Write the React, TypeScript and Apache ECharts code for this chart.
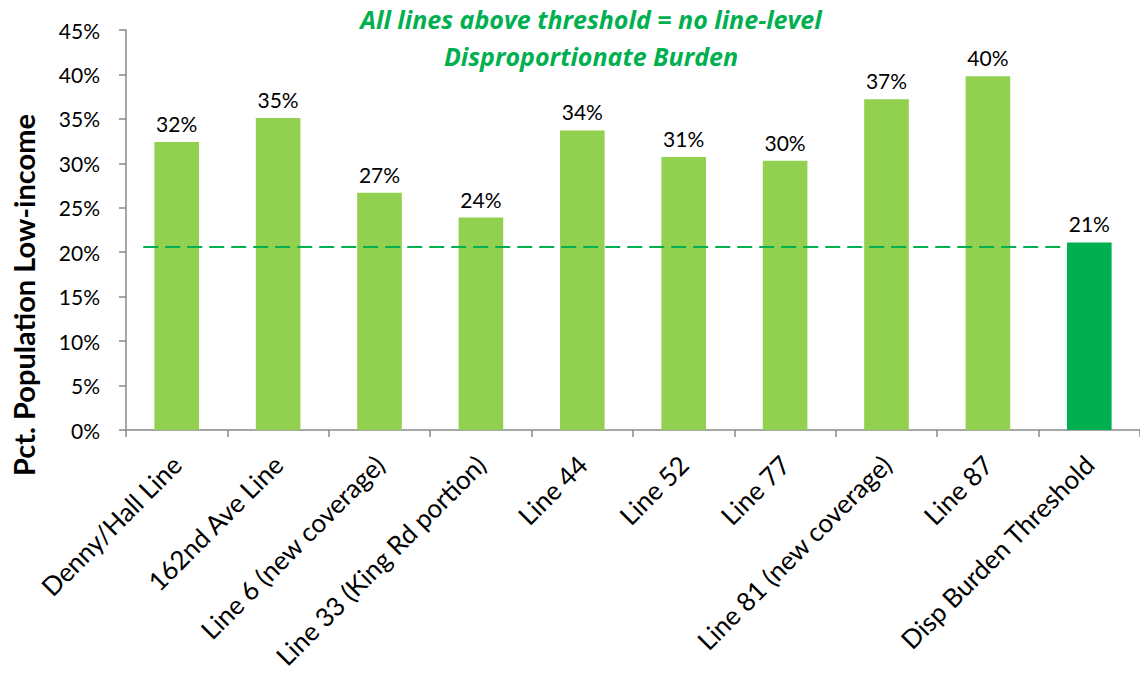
import React, { useEffect, useRef } from "react";
import * as echarts from "echarts";

const categories = [
  "Denny/Hall Line",
  "162nd Ave Line",
  "Line 6 (new coverage)",
  "Line 33 (King Rd portion)",
  "Line 44",
  "Line 52",
  "Line 77",
  "Line 81 (new coverage)",
  "Line 87",
  "Disp Burden Threshold",
];
const lowIncomePct = [32.4, 35.1, 26.7, 23.9, 33.7, 30.7, 30.3, 37.2, 39.8, 21.1];
const yTicks = { min: 0, max: 45, interval: 5 };
// threshold dashed line, in category units along the x axis
const thresholdLine: [number, number][] = [
  [0.17, 20.6],
  [9.28, 20.6],
];
const noteLine1 = "All lines above threshold = no line-level";
const noteLine2 = "Disproportionate Burden";
const yTitle = "Pct. Population Low-income";

const FONT = "Lato, 'Noto Sans', sans-serif";
const NOTE_FONT = "'Open Sans', Lato, sans-serif";
const LIGHT = "#92D050";
const DARK = "#00B050";

export default function App() {
  const ref = useRef<HTMLDivElement>(null);
  useEffect(() => {
    if (!ref.current) return;
    const chart = echarts.init(ref.current, null, { renderer: "svg" });
    chart.setOption({
      animation: false,
      textStyle: { fontFamily: FONT },
      grid: { left: 126, right: -7, top: 30, bottom: 247, containLabel: false },
      xAxis: [
        {
          type: "category",
          data: categories,
          axisLine: { lineStyle: { color: "#888888", width: 1.5 } },
          axisTick: { show: true, length: 7, lineStyle: { color: "#888888", width: 1.5 } },
          axisLabel: {
            rotate: 45,
            interval: 0,
            margin: 30,
            color: "#000",
            fontSize: 26,
            fontFamily: FONT,
          },
        },
        { type: "value", min: 0, max: 10, show: false },
      ],
      yAxis: {
        type: "value",
        min: yTicks.min,
        max: yTicks.max,
        interval: yTicks.interval,
        splitLine: { show: false },
        axisLine: { show: true, lineStyle: { color: "#888888", width: 1.5 } },
        axisTick: { show: true, length: 7, lineStyle: { color: "#888888", width: 1.5 } },
        axisLabel: {
          formatter: "{value}%",
          color: "#000",
          fontSize: 21,
          margin: 26,
          fontFamily: FONT,
        },
      },
      series: [
        {
          type: "bar",
          barWidth: "44%",
          data: lowIncomePct.map((v, i) => ({
            value: v,
            itemStyle: { color: i === lowIncomePct.length - 1 ? DARK : LIGHT },
          })),
          label: {
            show: true,
            position: "top",
            distance: 8,
            color: "#000",
            fontSize: 21,
            fontFamily: FONT,
            formatter: (p: any) => Math.round(p.value) + "%",
          },
          z: 2,
        },
        {
          type: "line",
          xAxisIndex: 1,
          data: thresholdLine,
          symbol: "none",
          lineStyle: { color: DARK, width: 2, type: [15, 7] },
          z: 3,
        },
      ],
      graphic: [
        {
          type: "text",
          x: 591,
          y: 19,
          style: {
            text: noteLine1,
            fill: DARK,
            align: "center",
            verticalAlign: "middle",
            font: `italic bold 25px ${NOTE_FONT}`,
          },
        },
        {
          type: "text",
          x: 591,
          y: 56,
          style: {
            text: noteLine2,
            fill: DARK,
            align: "center",
            verticalAlign: "middle",
            font: `italic bold 25px ${NOTE_FONT}`,
          },
        },
        {
          type: "text",
          x: 23,
          y: 295,
          rotation: Math.PI / 2,
          style: {
            text: yTitle,
            fill: "#000",
            align: "center",
            verticalAlign: "middle",
            font: `bold 29px ${FONT}`,
          },
        },
      ],
    });
    return () => chart.dispose();
  }, []);
  return (
    <div
      ref={ref}
      style={{ position: "absolute", left: 0, top: 0, width: 1140, height: 677 }}
    />
  );
}
